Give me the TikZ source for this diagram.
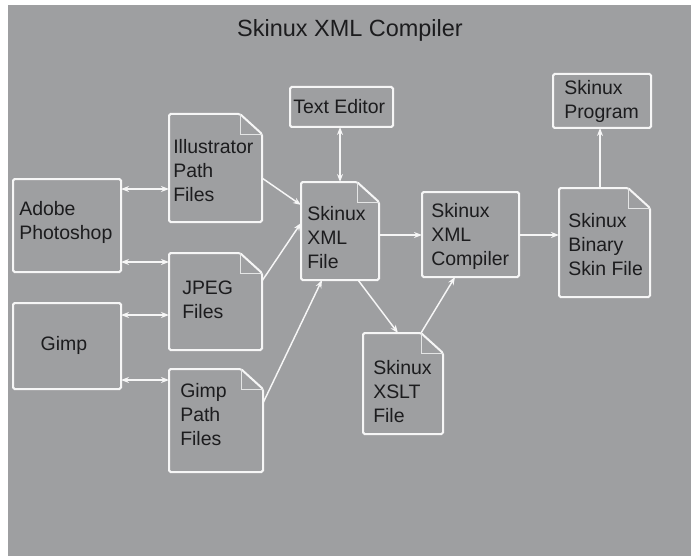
\documentclass[tikz,border=0pt]{standalone}
\usepackage{fontspec}
\setmainfont{Liberation Sans}
\usetikzlibrary{arrows.meta}
\definecolor{bggray}{RGB}{158,159,161}
\definecolor{linew}{RGB}{246,246,246}
\definecolor{txt}{RGB}{28,28,30}
\tikzset{
  boxs/.style={draw=linew, line width=1.5pt, rounded corners=1.2pt, inner sep=0pt, outer sep=0pt},
  docs/.style={draw=none, inner sep=0pt, outer sep=0pt},
  docline/.style={draw=linew, line width=1.5pt, rounded corners=1.2pt},
  foldline/.style={draw=linew!80!bggray, line width=0.6pt},
  lbl/.style={font=\fontsize{14.6}{18}\selectfont, text=txt, align=left, inner sep=0pt, anchor=west},
  conn/.style={draw=linew, line width=1.1pt, -{Stealth[length=6pt,width=4.5pt]}},
  dconn/.style={draw=linew, line width=1.1pt, {Stealth[length=6pt,width=4.5pt]}-{Stealth[length=6pt,width=4.5pt]}},
}
\newcommand\docoutline[1]{%
  \draw[docline] (#1.north west) -- ([xshift=-16.5pt]#1.north east) -- ([yshift=-15pt]#1.north east) -- (#1.south east) -- (#1.south west) -- cycle;
  \draw[foldline] ([xshift=-16.5pt]#1.north east) -- ++(0pt,-15pt) -- ([yshift=-15pt]#1.north east);}
\begin{document}
\begin{tikzpicture}[x=0.75pt,y=-0.75pt]
\fill[white] (0,0) rectangle (691,556);
\fill[bggray] (8,5) rectangle (691,556);
\useasboundingbox (0,0) rectangle (691,556);

\node[font=\fontsize{17.6}{20}\selectfont, text=txt, inner sep=0pt] (title) at (350,30) {Skinux XML Compiler};

% boxes
\node[boxs, minimum width=108*0.75pt, minimum height=93*0.75pt] (ps) at (67,225.5) {};
\node[boxs, minimum width=108*0.75pt, minimum height=86*0.75pt] (gimp) at (67,346) {};
\node[docs, minimum width=93*0.75pt, minimum height=108*0.75pt] (ill) at (215.5,168) {};
\node[docs, minimum width=93*0.75pt, minimum height=97*0.75pt] (jpg) at (215.5,301.5) {};
\node[docs, minimum width=94*0.75pt, minimum height=103*0.75pt] (gpf) at (216,420.5) {};
\node[boxs, minimum width=103*0.75pt, minimum height=40*0.75pt] (te) at (341.5,107) {};
\node[docs, minimum width=78*0.75pt, minimum height=98*0.75pt] (xml) at (340,231) {};
\node[boxs, minimum width=97*0.75pt, minimum height=85*0.75pt] (comp) at (470.5,234.5) {};
\node[docs, minimum width=91*0.75pt, minimum height=109*0.75pt] (bin) at (604.5,242.5) {};
\node[boxs, minimum width=98*0.75pt, minimum height=54*0.75pt] (prog) at (602,101) {};
\node[docs, minimum width=80*0.75pt, minimum height=101*0.75pt] (xslt) at (403,383.5) {};

\docoutline{ill}
\docoutline{jpg}
\docoutline{gpf}
\docoutline{xml}
\docoutline{bin}
\docoutline{xslt}

% labels
\node[lbl] (tps) at (19,222) {Adobe\\Photoshop};
\node[lbl, anchor=center] (tgimp) at (64,345) {Gimp};
\node[lbl] (till) at (173,171) {Illustrator\\Path\\Files};
\node[lbl] (tjpg) at (182,300) {JPEG\\Files};
\node[lbl] (tgpf) at (180,415) {Gimp\\Path\\Files};
\node[lbl] (tte) at (293,107) {Text Editor};
\node[lbl] (txml) at (307,237.5) {Skinux\\XML\\File};
\node[lbl] (tcomp) at (431,236) {Skinux\\XML\\Compiler};
\node[lbl] (tbin) at (568,245) {Skinux\\Binary\\Skin File};
\node[lbl] (tprog) at (564,101.5) {Skinux\\Program};
\node[lbl] (txslt) at (373,392) {Skinux\\XSLT\\File};

% connectors
\draw[dconn] (ps.east |- 0,189) -- (ill.west |- 0,189);
\draw[dconn] (ps.east |- 0,262) -- (jpg.west |- 0,262);
\draw[dconn] (gimp.east |- 0,315) -- (jpg.west |- 0,315);
\draw[dconn] (gimp.east |- 0,380) -- (gpf.west |- 0,380);
\draw[conn] (ill.east |- 0,178) -- (xml.west |- 0,205);
\draw[conn] (jpg.east |- 0,281) -- (xml.west |- 0,223);
\draw[conn] (gpf.east |- 0,403) -- (xml.south -| 322,0);
\draw[dconn] (te.south -| 340,0) -- (xml.north -| 340,0);
\draw[conn] (xml.east |- 0,235) -- (comp.west |- 0,235);
\draw[conn] (comp.east |- 0,235) -- (bin.west |- 0,235);
\draw[conn] (bin.north -| 600,0) -- (prog.south -| 600,0);
\draw[conn] (xml.south -| 358,0) -- (xslt.north -| 398,0);
\draw[conn] (xslt.north -| 421,0) -- (comp.south -| 455,0);
\end{tikzpicture}
\end{document}
